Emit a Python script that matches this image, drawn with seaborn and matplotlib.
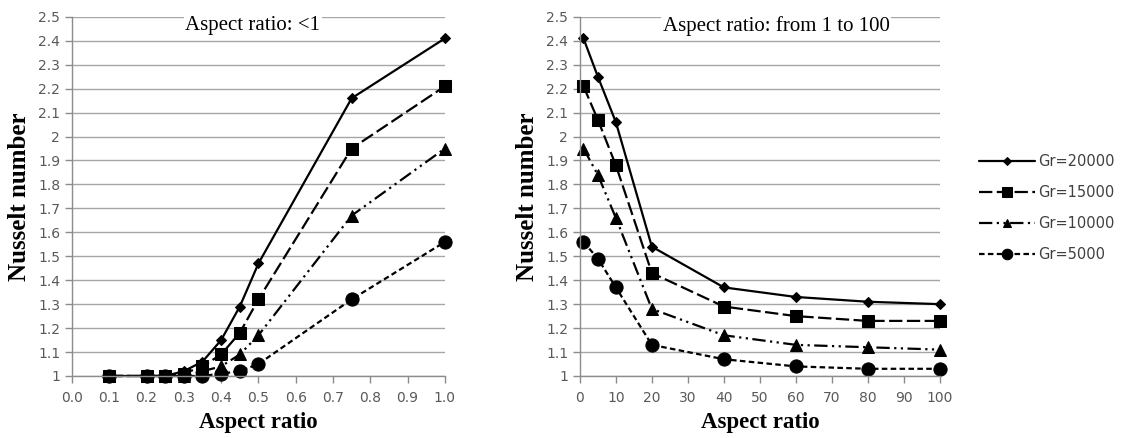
import numpy as np
import pandas as pd
import seaborn as sns
import matplotlib.pyplot as plt
from matplotlib.ticker import FuncFormatter, MultipleLocator

# left panel: aspect ratio below 1
ar_small = [0.1, 0.2, 0.25, 0.3, 0.35, 0.4, 0.45, 0.5, 0.75, 1.0]
nu_small_20000 = [1.0, 1.0, 1.0, 1.02, 1.06, 1.15, 1.29, 1.47, 2.16, 2.41]
nu_small_15000 = [1.0, 1.0, 1.0, 1.01, 1.04, 1.09, 1.18, 1.32, 1.95, 2.21]
nu_small_10000 = [1.0, 1.0, 1.0, 1.0, 1.02, 1.04, 1.09, 1.17, 1.67, 1.95]
nu_small_5000 = [1.0, 1.0, 1.0, 1.0, 1.0, 1.01, 1.02, 1.05, 1.32, 1.56]

# right panel: aspect ratio from 1 to 100
ar_large = [1, 5, 10, 20, 40, 60, 80, 100]
nu_large_20000 = [2.41, 2.25, 2.06, 1.54, 1.37, 1.33, 1.31, 1.30]
nu_large_15000 = [2.21, 2.07, 1.88, 1.43, 1.29, 1.25, 1.23, 1.23]
nu_large_10000 = [1.95, 1.84, 1.66, 1.28, 1.17, 1.13, 1.12, 1.11]
nu_large_5000 = [1.56, 1.49, 1.37, 1.13, 1.07, 1.04, 1.03, 1.03]

labels = ['Gr=20000', 'Gr=15000', 'Gr=10000', 'Gr=5000']
small_series = [nu_small_20000, nu_small_15000, nu_small_10000, nu_small_5000]
large_series = [nu_large_20000, nu_large_15000, nu_large_10000, nu_large_5000]

# line style per series
styles = [
    dict(marker='D', markersize=5, linestyle='-'),
    dict(marker='s', markersize=8.5, linestyle=(0, (6, 2))),
    dict(marker='^', markersize=8, linestyle=(0, (6, 2, 1, 2, 1, 2))),
    dict(marker='o', markersize=9.5, linestyle=(0, (2.5, 1.5))),
]

sns.set_style('white')
plt.rcParams['font.family'] = ['DejaVu Sans']

GRAY = '#8c8c8c'
TICK_COLOR = '#595959'

fig = plt.figure(figsize=(11.37, 4.38), dpi=100)
ax1 = fig.add_axes([0.0633, 0.1416, 0.328, 0.82])
ax2 = fig.add_axes([0.510, 0.1416, 0.3166, 0.82])


def style_axis(ax, title, title_x):
    ax.set_ylim(1, 2.5)
    ax.yaxis.set_major_locator(MultipleLocator(0.1))
    ax.yaxis.set_major_formatter(FuncFormatter(lambda v, p: f'{v:g}'))
    ax.yaxis.grid(True, color='#a6a6a6', linewidth=1)
    ax.xaxis.grid(False)
    ax.set_axisbelow(True)
    for s in ['top', 'right']:
        ax.spines[s].set_visible(False)
    for s in ['left', 'bottom']:
        ax.spines[s].set_color(GRAY)
        ax.spines[s].set_linewidth(1)
    ax.tick_params(axis='both', which='major', length=5, width=1, color=GRAY,
                   labelcolor=TICK_COLOR, labelsize=10, direction='out',
                   left=True, bottom=True)
    ax.tick_params(axis='x', pad=6)
    ax.set_ylabel('Nusselt number', family='Liberation Serif', fontweight='bold',
                  fontsize=18, color='black', labelpad=5)
    ax.set_xlabel('Aspect ratio', family='Liberation Serif', fontweight='bold',
                  fontsize=16.5, color='black', labelpad=5)
    ax.text(title_x, 0.975, title, transform=ax.transAxes, ha='center', va='center',
            family='Liberation Serif', fontsize=15, color='black',
            bbox=dict(facecolor='white', edgecolor='none', pad=1))


for lab, ys, st in zip(labels, small_series, styles):
    sns.lineplot(x=ar_small, y=ys, ax=ax1, color='black', label=lab, legend=False,
                 linewidth=1.6, markeredgecolor='black', markerfacecolor='black',
                 clip_on=False, **st)

for lab, ys, st in zip(labels, large_series, styles):
    sns.lineplot(x=ar_large, y=ys, ax=ax2, color='black', label=lab, legend=False,
                 linewidth=1.6, markeredgecolor='black', markerfacecolor='black',
                 clip_on=False, **st)

ax1.set_xlim(0, 1.0)
ax1.xaxis.set_major_locator(MultipleLocator(0.1))
ax1.xaxis.set_major_formatter(FuncFormatter(lambda v, p: f'{v:.1f}'))
style_axis(ax1, 'Aspect ratio: <1', 0.485)
if ax1.get_legend() is not None:
    ax1.get_legend().remove()

ax2.set_xlim(0, 100)
ax2.xaxis.set_major_locator(MultipleLocator(10))
ax2.xaxis.set_major_formatter(FuncFormatter(lambda v, p: f'{v:.0f}'))
style_axis(ax2, 'Aspect ratio: from 1 to 100', 0.545)

handles, hl = ax2.get_legend_handles_labels()
leg = ax2.legend(handles, hl, loc='center left', bbox_to_anchor=(0.855, 0.525),
                 bbox_transform=fig.transFigure, frameon=False, fontsize=10.5,
                 handlelength=3.8, handletextpad=0.25, labelspacing=1.1,
                 borderpad=0, markerscale=0.8)
for t in leg.get_texts():
    t.set_color('#404040')

fig.savefig('out.png', dpi=100)
